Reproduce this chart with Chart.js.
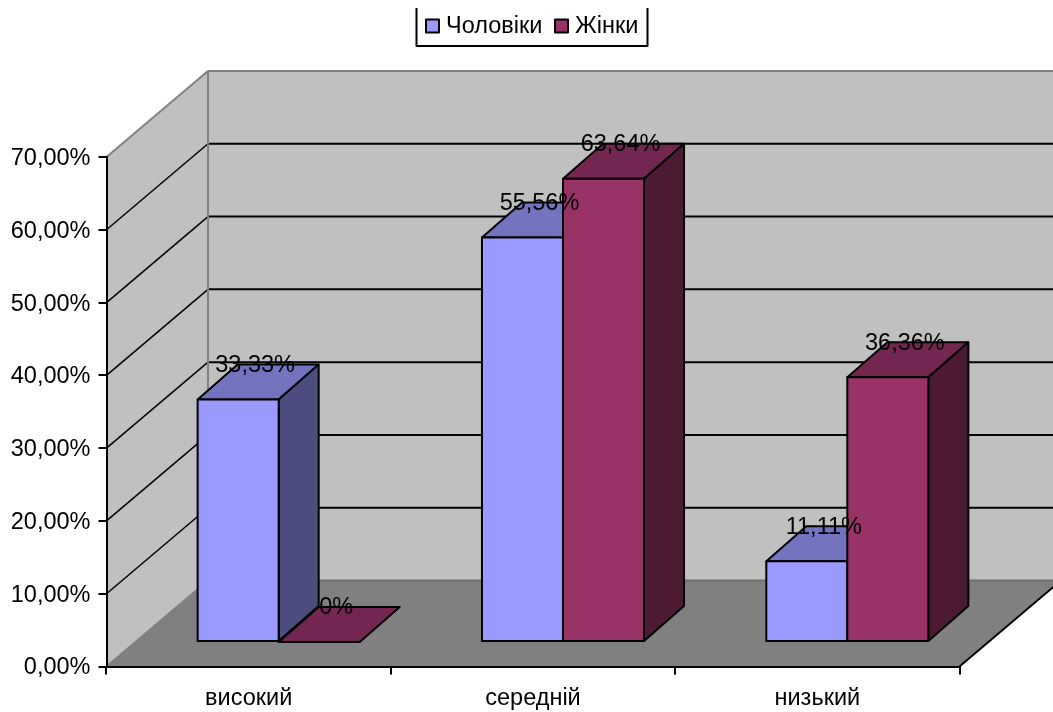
<!DOCTYPE html>
<html>
<head>
<meta charset="utf-8">
<style>
  body { margin: 0; background: #fff; }
  canvas { display: block; }
</style>
<script src="https://cdn.jsdelivr.net/npm/chart.js@4"></script>
</head>
<body>
<canvas id="myChart" width="1053" height="712"></canvas>
<script>
const categories = ['високий', 'середній', 'низький'];
const menValues = [33.33, 55.56, 11.11];
const womenValues = [0, 63.64, 36.36];
const seriesNames = ['Чоловіки', 'Жінки'];
const yTicksMax = 70;
const yTicksStep = 10;

const fontName = '"Liberation Sans", Arial, sans-serif';
const fontSize = 23.5;

// depth of the box and of the bars, in pixels
const wallDx = 101.5, wallDy = 86;
const barShiftX = 30, barShiftY = 24.5;
const barDx = 40, barDy = 35;

const faces = [
  { top: '#7373BF', side: '#4D4D80' },
  { top: '#732650', side: '#4D1A33' }
];
const legendX = [426, 555];

function percent(v) {
  return v.toFixed(2).replace('.', ',') + '%';
}

function poly(c, pts, fill, stroke, width) {
  c.beginPath();
  pts.forEach((p, i) => i ? c.lineTo(p[0], p[1]) : c.moveTo(p[0], p[1]));
  c.closePath();
  if (fill) { c.fillStyle = fill; c.fill(); }
  if (stroke) { c.strokeStyle = stroke; c.lineWidth = width; c.lineJoin = 'round'; c.stroke(); }
}

function line(c, x1, y1, x2, y2, color, width) {
  c.beginPath();
  c.moveTo(x1, y1);
  c.lineTo(x2, y2);
  c.strokeStyle = color;
  c.lineWidth = width;
  c.stroke();
}

const box3d = {
  id: 'box3d',
  beforeDraw(chart) {
    const c = chart.ctx;
    const { left: L, right: R, top: T, bottom: B } = chart.chartArea;
    const gray = '#808080';
    c.save();
    // back wall, side wall, floor
    poly(c, [[L + wallDx, T - wallDy], [R + wallDx, T - wallDy], [R + wallDx, B - wallDy], [L + wallDx, B - wallDy]], '#C0C0C0');
    poly(c, [[L, T], [L + wallDx, T - wallDy], [L + wallDx, B - wallDy], [L, B]], '#C0C0C0');
    poly(c, [[L, B], [R, B], [R + wallDx, B - wallDy], [L + wallDx, B - wallDy]], gray);

    chart.scales.y.ticks.forEach(t => {
      if (t.value === 0 || t.value === yTicksMax) return;
      const y = chart.scales.y.getPixelForValue(t.value);
      line(c, L, y, L + wallDx, y - wallDy, '#000', 1.5);
      line(c, L + wallDx, y - wallDy, R + wallDx, y - wallDy, '#000', 2);
    });

    line(c, L, T, L + wallDx, T - wallDy, gray, 2);
    line(c, L + wallDx, T - wallDy, R + wallDx, T - wallDy, gray, 2);
    line(c, L + wallDx, T - wallDy, L + wallDx, B - wallDy, gray, 2);
    line(c, L, B, L + wallDx, B - wallDy, gray, 2);
    line(c, L + wallDx, B - wallDy, R + wallDx, B - wallDy, '#6e6e6e', 2);
    line(c, R, B, R + wallDx, B - wallDy, '#000', 2);
    c.restore();
  },
  beforeDatasetsDraw(chart) {
    // painter's order: first series first, so the second one covers its side face
    const c = chart.ctx;
    chart.data.datasets.forEach((ds, i) => {
      const meta = chart.getDatasetMeta(i);
      const f = faces[i];
      c.save();
      c.translate(barShiftX, -barShiftY);
      meta.data.forEach(el => {
        const x0 = el.x - el.width / 2, x1 = el.x + el.width / 2;
        const yT = el.y, yB = el.base;
        poly(c, [[x0, yT], [x1, yT], [x1 + barDx, yT - barDy], [x0 + barDx, yT - barDy]], f.top, '#000', 2);
        if (yB > yT) {
          poly(c, [[x1, yT], [x1 + barDx, yT - barDy], [x1 + barDx, yB - barDy], [x1, yB]], f.side, '#000', 2);
        }
      });
      meta.controller.draw();
      // front outline, centred on the edges so neighbours share one line
      meta.data.forEach(el => {
        const x0 = el.x - el.width / 2, x1 = el.x + el.width / 2;
        poly(c, [[x0, el.y], [x1, el.y], [x1, el.base], [x0, el.base]], null, '#000', 2);
      });
      c.restore();
    });
    return false;
  },
  afterDraw(chart) {
    const c = chart.ctx;
    c.save();
    // data labels sit over everything
    c.font = fontSize + 'px ' + fontName;
    c.fillStyle = '#000';
    c.textAlign = 'center';
    c.textBaseline = 'middle';
    chart.data.datasets.forEach((ds, i) => {
      chart.getDatasetMeta(i).data.forEach((el, j) => {
        const v = ds.data[j];
        c.fillText(v === 0 ? '0%' : percent(v), el.x + barShiftX + 17, el.y - barShiftY - 34);
      });
    });
    // legend, top edge of the frame is cut off in the source
    c.textAlign = 'left';
    chart.data.datasets.forEach((ds, i) => {
      poly(c, [[legendX[i], 19.5], [legendX[i] + 13, 19.5], [legendX[i] + 13, 32.5], [legendX[i], 32.5]], ds.backgroundColor, '#000', 2);
      c.fillStyle = '#000';
      c.fillText(ds.label, legendX[i] + 20, 27);
    });
    c.beginPath();
    c.moveTo(416.5, 8);
    c.lineTo(416.5, 46);
    c.lineTo(647.5, 46);
    c.lineTo(647.5, 8);
    c.strokeStyle = '#000';
    c.lineWidth = 2;
    c.stroke();
    c.restore();
  }
};

new Chart(document.getElementById('myChart'), {
  type: 'bar',
  data: {
    labels: categories,
    datasets: [{
      label: seriesNames[0],
      data: menValues,
      backgroundColor: '#9999FF',
      borderWidth: 0
    }, {
      label: seriesNames[1],
      data: womenValues,
      backgroundColor: '#993366',
      borderWidth: 0
    }]
  },
  options: {
    responsive: false,
    animation: false,
    categoryPercentage: 0.57,
    barPercentage: 1,
    layout: { padding: { left: 0, right: 93.5, top: 157, bottom: 0 } },
    plugins: {
      tooltip: { enabled: false },
      legend: { display: false }
    },
    scales: {
      x: {
        afterFit(scale) { scale.height = 45.5; },
        grid: { drawOnChartArea: false, color: '#000', lineWidth: 2, tickLength: 8 },
        border: { color: '#000', width: 2 },
        ticks: {
          color: '#000',
          padding: 10,
          maxRotation: 0,
          font: { family: fontName, size: fontSize }
        }
      },
      y: {
        min: 0,
        max: yTicksMax,
        afterFit(scale) { scale.width = 106.5; },
        grid: { drawOnChartArea: false, color: '#000', lineWidth: 2, tickLength: 8 },
        border: { color: '#000', width: 2 },
        ticks: {
          stepSize: yTicksStep,
          color: '#000',
          padding: 8,
          labelOffset: 1.5,
          font: { family: fontName, size: fontSize },
          callback: v => percent(v)
        }
      }
    }
  },
  plugins: [box3d]
});
</script>
</body>
</html>
